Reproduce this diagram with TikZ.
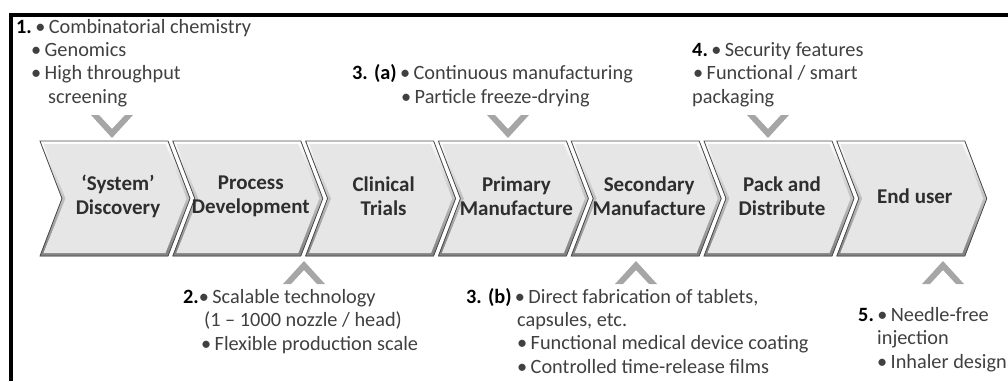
\documentclass[tikz,border=0pt]{standalone}
\usepackage{fontspec}
\setmainfont{Carlito}
\usetikzlibrary{positioning}
\definecolor{notegray}{HTML}{404040}
\definecolor{stagegray}{HTML}{2E2E2E}
\definecolor{markgray}{HTML}{A6A6A6}
\definecolor{stagefill}{HTML}{E6E6E6}

\begin{document}
\begin{tikzpicture}[x=1pt,y=-1pt,
  stage/.style={font=\fontsize{21}{24}\selectfont\bfseries, text=stagegray, align=center, inner sep=0pt},
  note/.style={font=\fontsize{20.3}{23.3}\selectfont, text=notegray, align=left, inner sep=0pt, anchor=base west}]
  \useasboundingbox (0,0) rectangle (1008,381);
  \draw[line width=3.3pt] (1008,15) -- (11,15) -- (11,381);

  \foreach \t [count=\i from 0] in {{‘System’\\Discovery}, {Process\\Development}, {Clinical\\Trials},
      {Primary\\Manufacture}, {Secondary\\Manufacture}, {Pack and\\Distribute}, {End user}} {
    \pgfmathsetmacro\x{40+132.8*\i}
    \filldraw[draw=black!70, line width=0.8pt, top color=white, bottom color=black!50]
      (\x,141) -- ++(128,0) -- ++(22,57.5) -- ++(-22,57.5) -- ++(-128,0) -- ++(22,-57.5) -- cycle;
    \fill[stagefill] (\x+3.5,144) -- (\x+125.5,144) -- (\x+146.5,198.5) -- (\x+125.5,253)
      -- (\x+3.5,253) -- (\x+25.5,198.5) -- cycle;
    \node[stage] (s\i) at (\x+78,196) {\t};
  }

  \foreach \c in {112,508,768}
    \fill[markgray] (\c-21,115) -- (\c,138) -- (\c+21,115) -- (\c+13,115) -- (\c,129) -- (\c-13,115) -- cycle;
  \foreach \c in {304,636,943}
    \fill[markgray] (\c-21,284) -- (\c,261) -- (\c+21,284) -- (\c+13,284) -- (\c,270) -- (\c-13,284) -- cycle;

  \node[note] (n1) at (16,103) {\textbf{\color{black}1.}\,•\,Combinatorial chemistry\\
    \hspace*{15pt}•\,Genomics\\
    \hspace*{15pt}•\,High throughput\\
    \hspace*{32pt}screening};
  \node[note] (n3a) at (352,103) {\textbf{\color{black}3. (a)}\,•\,Continuous manufacturing\\
    \hspace*{49pt}•\,Particle freeze-drying};
  \node[note] (n4) at (692,103) {\textbf{\color{black}4.}\,•\,Security features\\
    \hspace*{1pt}•\,Functional / smart\\
    packaging};
  \node[note] (n2) at (183,350) {\textbf{\color{black}2.}•\,Scalable technology\\
    \hspace*{21pt}(1 – 1000 nozzle / head)\\
    \hspace*{18pt}•\,Flexible production scale};
  \node[note] (n3b) at (466,373) {\textbf{\color{black}3. (b)}\,•\,Direct fabrication of tablets,\\
    \hspace*{51pt}capsules, etc.\\
    \hspace*{51pt}•\,Functional medical device coating\\
    \hspace*{51pt}•\,Controlled time-release films};
  \node[note] (n5) at (858,368) {\textbf{\color{black}5.}\,•\,Needle-free\\
    \hspace*{19pt}injection\\
    \hspace*{19pt}•\,Inhaler design};
\end{tikzpicture}
\end{document}
